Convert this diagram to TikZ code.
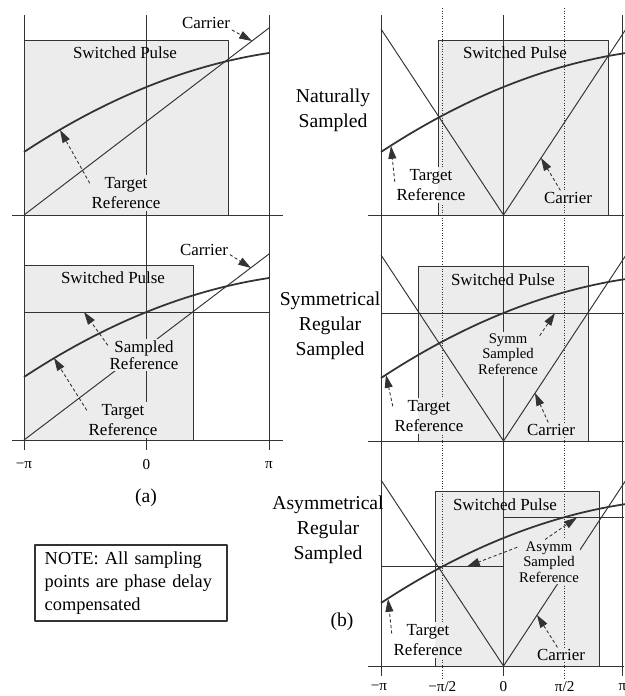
\documentclass[tikz,border=0pt]{standalone}
\usepackage{fontspec}
\setmainfont{Liberation Serif}
\usetikzlibrary{arrows.meta}
\definecolor{pulsegray}{gray}{0.925}
\definecolor{ink}{gray}{0.2}

\begin{document}
\begin{tikzpicture}[x=0.022cm, y=-0.022cm, line join=round,
  gridline/.style={draw=ink, line width=0.6pt},
  dotline/.style={draw=ink, line width=0.6pt, densely dotted},
  pulsebox/.style={draw=ink, line width=0.6pt, fill=pulsegray},
  carrierline/.style={draw=ink, line width=0.6pt},
  refline/.style={draw=ink, line width=1.1pt},
  lbl/.style={font=\fontsize{10.6}{13}\selectfont, align=center, inner sep=1pt, fill=pulsegray},
  edgelbl/.style={lbl, fill=white, path picture={\fill[pulsegray] (path picture bounding box.north west -| #1) rectangle (path picture bounding box.south east);}},
  smalllbl/.style={lbl, font=\fontsize{9.2}{9.8}\selectfont},
  sidelbl/.style={font=\fontsize{12.3}{15.6}\selectfont, align=center},
  ticklbl/.style={font=\fontsize{9.5}{11}\selectfont, inner sep=0pt},
  ptr/.style={draw=ink, line width=0.55pt, dash pattern=on 2pt off 1.5pt, -{Triangle[length=8pt,width=5pt]}},
  notebox/.style={draw=ink, line width=1.1pt, fill=white, text width=108pt, inner xsep=6pt, inner ysep=4pt, align=left, font=\fontsize{11.5}{14.4}\selectfont}
]
\useasboundingbox (0,0) rectangle (624,696);

\path[pulsebox] (24,40) coordinate (pulse1) rectangle (228,215);
\path[pulsebox] (24,265) coordinate (pulse2) rectangle (193,440);
\path[pulsebox] (438,40) coordinate (pulse3) rectangle (608,215);
\path[pulsebox] (418,266) coordinate (pulse4) rectangle (588,441);
\path[pulsebox] (435,491) coordinate (pulse5) rectangle (599,666);

\foreach \y in {215,440} \draw[gridline] (12,\y) -- (283,\y);
\foreach \x in {24,146.5,269} \draw[gridline] (\x,15) -- (\x,450);
\foreach \y in {215,441,666} \draw[gridline] (368,\y) -- (624,\y);
\foreach \x in {381,503.5,622.5} \draw[gridline] (\x,15) -- (\x,676);
\foreach \x in {442.3,564.7} \draw[dotline] (\x,8) -- (\x,678);

\draw[carrierline] (24,215) -- (269,28);
\draw[carrierline] (24,440) -- (269,254);
\draw[carrierline] (381,29) -- (503.5,215) -- (626,29);
\draw[carrierline] (381,255) -- (503.5,441) -- (626,255);
\draw[carrierline] (381,480) -- (503.5,666) -- (626,480);

\draw[gridline] (24,312) -- (269,312);
\draw[gridline] (381,313) -- (624,313);
\draw[gridline] (381,566.5) -- (503.5,566.5) -- (503.5,517.5) -- (624,517.5);

\foreach \cx/\ay in {146.5/215, 146.5/440, 503.5/215, 503.5/441, 503.5/666}
  \draw[refline] plot[domain=-1:1, samples=40, smooth]
    ({\cx+122.5*(\x)}, {\ay-128-49.5*(\x)+15.5*(\x)*(\x)});

\node[lbl, fill=none] (sp1) at (125,53) {Switched Pulse};
\node[lbl, fill=none] (sp2) at (113,278) {Switched Pulse};
\node[lbl, fill=none] (sp3) at (515,53) {Switched Pulse};
\node[lbl, fill=none] (sp4) at (503,280) {Switched Pulse};
\node[lbl, fill=none] (sp5) at (505,505) {Switched Pulse};

\node[lbl, fill=none] (car1) at (206,23) {Carrier};
\node[lbl] (tr1) at (126,193) {Target\\Reference};
\node[lbl, fill=none] (car2) at (204,250) {Carrier};
\node[lbl, font=\fontsize{10.6}{11}\selectfont] (sr2) at (144,355) {Sampled\\Reference};
\node[lbl] (tr2) at (123,420) {Target\\Reference};

\node[edgelbl=pulse3] (tr3) at (431,185) {Target\\Reference};
\node[lbl] (car3) at (568,198) {Carrier};
\node[smalllbl] (sr4) at (508,354) {Symm\\Sampled\\Reference};
\node[edgelbl=pulse4] (tr4) at (429,416) {Target\\Reference};
\node[lbl] (car4) at (551,430) {Carrier};
\node[smalllbl] (sr5) at (549,562) {Asymm\\Sampled\\Reference};
\node[edgelbl=pulse5] (tr5) at (428,640) {Target\\Reference};
\node[lbl] (car5) at (561,655) {Carrier};

\coordinate (car1-tip) at (252,41);
\coordinate (tr1-tip) at (60,130);
\coordinate (car2-tip) at (251,268);
\coordinate (sr2-tip) at (84,312);
\coordinate (tr2-tip) at (54,358);
\coordinate (tr3-tip) at (391,146);
\coordinate (car3-tip) at (541,158);
\coordinate (sr4-tip) at (555,313);
\coordinate (tr4-tip) at (386,375);
\coordinate (car4-tip) at (535,393);
\coordinate (sr5-tipa) at (467,566.5);
\coordinate (sr5-tipb) at (577,517.5);
\coordinate (tr5-tip) at (388,599);
\coordinate (car5-tip) at (537,615);

\draw[ptr] (car1.-15) -- (car1-tip);
\draw[ptr] (tr1.165) -- (tr1-tip);
\draw[ptr] (car2.-10) -- (car2-tip);
\draw[ptr] (sr2.165) -- (sr2-tip);
\draw[ptr] (tr2.165) -- (tr2-tip);
\draw[ptr] (tr3.175) -- (tr3-tip);
\draw[ptr] (car3.135) -- (car3-tip);
\draw[ptr] (sr4.30) -- (sr4-tip);
\draw[ptr] (tr4.165) -- (tr4-tip);
\draw[ptr] (car4.110) -- (car4-tip);
\draw[ptr] (sr5.155) -- (sr5-tipa);
\draw[ptr] (sr5.100) -- (sr5-tipb);
\draw[ptr] (tr5.170) -- (tr5-tip);
\draw[ptr] (car5.115) -- (car5-tip);

\node[sidelbl] (nat) at (333,110) {Naturally\\Sampled};
\node[sidelbl] (sym) at (330,326) {Symmetrical\\Regular\\Sampled};
\node[sidelbl] (asym) at (328,530) {Asymmetrical\\Regular\\Sampled};
\node[sidelbl] (capa) at (146,498) {(a)};
\node[sidelbl] (capb) at (342,622) {(b)};

\node[ticklbl] (ta1) at (24,465) {−π};
\node[ticklbl] (ta2) at (146.5,465) {0};
\node[ticklbl] (ta3) at (269,465) {π};
\node[ticklbl] (tb1) at (379,687) {−π};
\node[ticklbl] (tb2) at (442.3,687) {−π/2};
\node[ticklbl] (tb3) at (503.5,687) {0};
\node[ticklbl] (tb4) at (564.7,687) {π/2};
\node[ticklbl] (tb5) at (622.5,687) {π};

\node[notebox] (note) at (131,583) {NOTE: All sampling\\points are phase delay\\compensated};
\end{tikzpicture}
\end{document}
